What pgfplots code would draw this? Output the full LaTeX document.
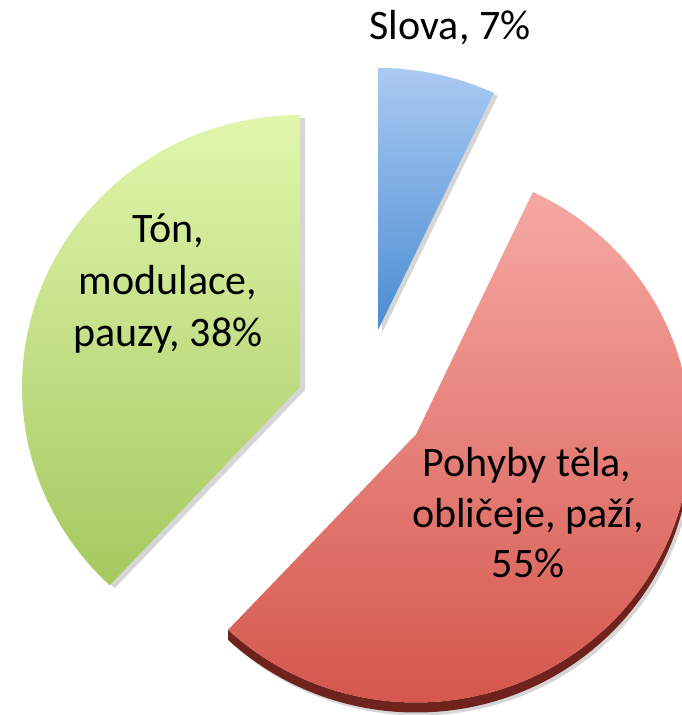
\documentclass[border=0pt]{standalone}
\usepackage{fontspec}
\setmainfont{Carlito}
\usepackage{pgfplots}
\usepackage{pgfplotstable}
\pgfplotsset{compat=1.18}
\definecolor{blueT}{RGB}{170,202,243}
\definecolor{blueB}{RGB}{74,140,210}
\definecolor{redT}{RGB}{246,168,163}
\definecolor{redB}{RGB}{212,86,76}
\definecolor{redS}{RGB}{112,34,28}
\definecolor{greenT}{RGB}{225,246,172}
\definecolor{greenB}{RGB}{165,200,95}
\pgfplotstableread{
name value
Slova 7
Pohyby 55
Ton 38
}\piedata
\pgfplotstablegetelem{0}{value}\of\piedata \let\vA\pgfplotsretval
\pgfplotstablegetelem{1}{value}\of\piedata \let\vB\pgfplotsretval
\pgfplotstablegetelem{2}{value}\of\piedata \let\vC\pgfplotsretval
\pgfmathsetmacro{\aO}{90}
\pgfmathsetmacro{\aA}{\aO-3.6*\vA}
\pgfmathsetmacro{\aB}{\aA-3.6*\vB}
\pgfmathsetmacro{\aC}{\aB-3.6*\vC}
\begin{document}%
\begin{tikzpicture}
\begin{axis}[
  x=1pt, y=1pt, anchor=origin, at={(0,0)},
  xmin=0, xmax=682, ymin=0, ymax=715,
  hide axis, clip=true,
]
% shadows
\fill[black, opacity=0.16] ([shift={(4pt,-3pt)}]axis cs:378,385) -- ++(\aO:272pt and 262pt)
  arc[start angle=\aO, end angle=\aA, x radius=272pt, y radius=262pt] -- cycle;
\fill[black, opacity=0.16] ([shift={(5pt,-3pt)}]axis cs:300,328) -- ++(\aB:278pt and 272pt)
  arc[start angle=\aB, end angle=\aC, x radius=278pt, y radius=272pt] -- cycle;
\fill[black, opacity=0.16] ([shift={(3pt,-13pt)}]axis cs:416,280.5) -- ++(\aA:274.5pt and 268pt)
  arc[start angle=\aA, end angle=\aB, x radius=274.5pt, y radius=268pt] -- cycle;
% red side band
\fill[redS] (axis cs:416,280.5) ++(\aB:274.5pt and 268pt)
  arc[start angle=\aB, end angle=0, x radius=274.5pt, y radius=268pt] -- ++(0,-10pt)
  arc[start angle=0, end angle=\aB, x radius=274.5pt, y radius=268pt] -- cycle;
% slices
\path[top color=blueT, bottom color=blueB] (axis cs:378,385) -- ++(\aO:272pt and 262pt)
  arc[start angle=\aO, end angle=\aA, x radius=272pt, y radius=262pt] -- cycle;
\path[top color=redT, bottom color=redB] (axis cs:416,280.5) -- ++(\aA:274.5pt and 268pt)
  arc[start angle=\aA, end angle=\aB, x radius=274.5pt, y radius=268pt] -- cycle;
\path[top color=greenT, bottom color=greenB] (axis cs:300,328) -- ++(\aB:278pt and 272pt)
  arc[start angle=\aB, end angle=\aC, x radius=278pt, y radius=272pt] -- cycle;
% labels
\begin{scope}[every node/.style={anchor=base, inner sep=0pt, font=\fontsize{42}{50}\selectfont}]
\node at (axis cs:450,675) {Slova, 7\%};
\node at (axis cs:168,472) {Tón,};
\node at (axis cs:168,420) {modulace,};
\node at (axis cs:168,368) {pauzy, 38\%};
\node at (axis cs:527,238) {Pohyby těla,};
\node at (axis cs:528,187) {obličeje, paží,};
\node at (axis cs:528,137) {55\%};
\end{scope}
\end{axis}
\pgfresetboundingbox
\useasboundingbox (0,0) rectangle (682pt,715pt);
\end{tikzpicture}%
\end{document}
